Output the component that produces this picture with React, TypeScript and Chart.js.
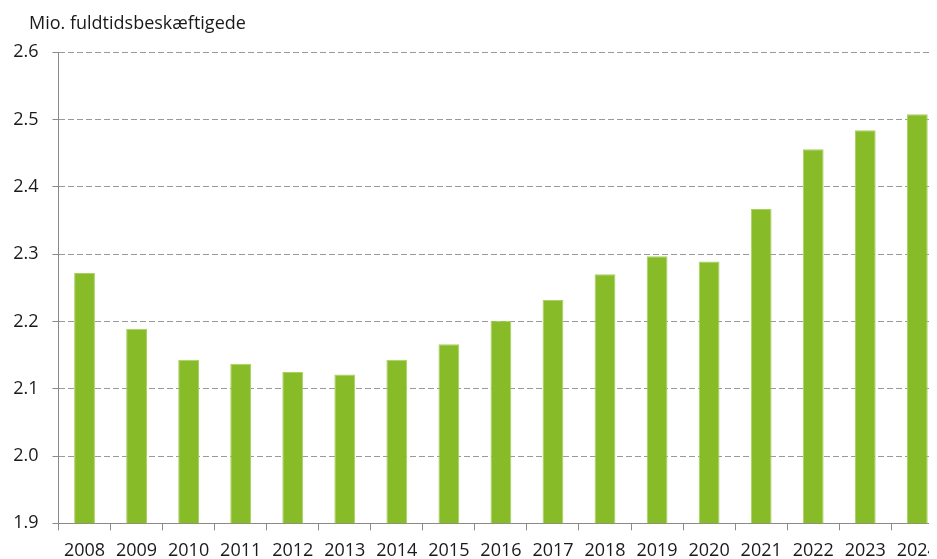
import React, { useEffect, useRef } from "react";
import { Chart, registerables } from "chart.js";

Chart.register(...registerables);

const years = ["2008","2009","2010","2011","2012","2013","2014","2015","2016","2017","2018","2019","2020","2021","2022","2023","2024"];
const employment = [2.272, 2.189, 2.143, 2.137, 2.125, 2.121, 2.143, 2.166, 2.201, 2.232, 2.270, 2.297, 2.289, 2.367, 2.456, 2.484, 2.508];
const yTicks = [1.9, 2.0, 2.1, 2.2, 2.3, 2.4, 2.5, 2.6];
const yTitle = "Mio. fuldtidsbeskæftigede";

const FONT = "'Open Sans', 'Noto Sans', sans-serif";

export default function App() {
  const ref = useRef<HTMLCanvasElement | null>(null);
  useEffect(() => {
    if (!ref.current) return;
    const titlePlugin = {
      id: "topTitle",
      afterDraw(chart: any) {
        const ctx = chart.ctx;
        ctx.save();
        ctx.font = `18px ${FONT}`;
        ctx.fillStyle = "#1a1a1a";
        ctx.textAlign = "left";
        ctx.textBaseline = "alphabetic";
        ctx.fillText(yTitle, 21, 21);
        ctx.restore();
      },
    };
    const chart = new Chart(ref.current, {
      type: "bar",
      data: {
        labels: years,
        datasets: [
          {
            data: employment,
            backgroundColor: "#87bb27",
            borderColor: "#a9d061",
            borderWidth: 1,
            barPercentage: 0.4,
            categoryPercentage: 1,
          },
        ],
      },
      options: {
        animation: false,
        responsive: false,
        maintainAspectRatio: false,
        layout: { padding: { top: 44.3, right: 3.2, left: 0, bottom: 0 } },
        plugins: { legend: { display: false }, tooltip: { enabled: false }, title: { display: false } },
        scales: {
          x: {
            offset: true,
            grid: {
              display: true,
              drawOnChartArea: false,
              drawTicks: true,
              tickLength: 7,
              color: "#8a8a8a",
              offset: true,
            },
            border: { display: true, color: "#8a8a8a", width: 1 },
            ticks: {
              color: "#1a1a1a",
              font: { family: FONT, size: 18 },
              padding: 10,
              maxRotation: 0,
              autoSkip: false,
            },
            afterFit(scale: any) {
              scale.height = 560 - 515.3;
            },
          },
          y: {
            min: 1.9,
            max: 2.6,
            afterBuildTicks(scale: any) {
              scale.ticks = yTicks.map((v) => ({ value: v }));
            },
            grid: {
              color: "#9a9a9a",
              tickColor: "#8a8a8a",
              tickLength: 6,
              drawTicks: true,
            },
            border: { display: true, color: "#8a8a8a", width: 1, dash: [6, 3] },
            ticks: {
              color: "#1a1a1a",
              font: { family: FONT, size: 18 },
              padding: 14,
              callback: (v: any) => Number(v).toFixed(1),
            },
            afterFit(scale: any) {
              scale.width = 50.5;
            },
          },
        },
      },
      plugins: [titlePlugin],
    } as any);
    return () => chart.destroy();
  }, []);
  return (
    <div style={{ width: 929, height: 551, overflow: "hidden", position: "relative" }}>
      <canvas ref={ref} width={940} height={560} style={{ display: "block" }} />
    </div>
  );
}
